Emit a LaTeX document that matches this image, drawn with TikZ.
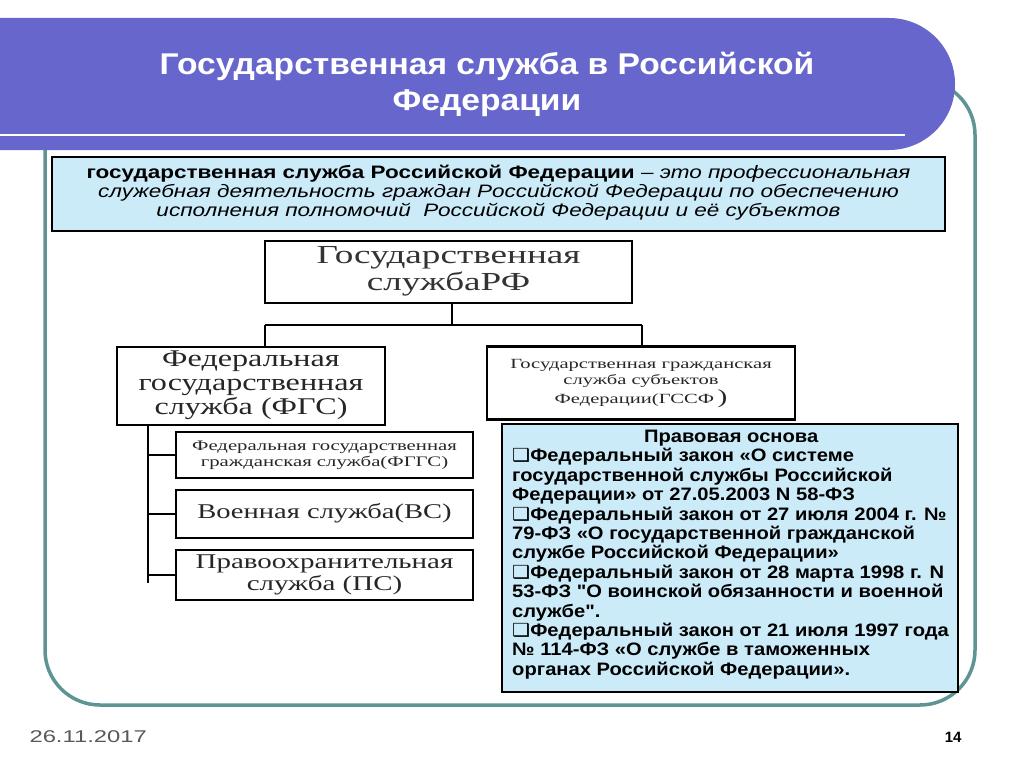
\documentclass[tikz,border=0pt]{standalone}
\usepackage{fontspec}
\setmainfont{Liberation Serif}
\newfontfamily\arial{Liberation Sans}
\newfontfamily\djvfont{DejaVu Sans}
\definecolor{ban}{HTML}{6666CC}
\definecolor{frm}{HTML}{5F9494}
\definecolor{lb}{HTML}{CCEBF9}
\newcommand\hsc[2]{\scalebox{#1}[1]{\begin{tabular}{@{}c@{}}#2\end{tabular}}}
\begin{document}
\begin{tikzpicture}[x=1pt,y=-1pt,
  org/.style={draw=black,line width=2.5pt,fill=white,align=center,inner sep=0pt},
  ln/.style={line width=2pt}]
\useasboundingbox (0,0) rectangle (1024,768);
\clip (0,0) rectangle (1024,768);
\fill[white] (0,0) rectangle (1024,768);
% frame
\draw[frm,line width=3.5pt,rounded corners=55pt] (45,80) rectangle (975,705);
% banner
\fill[ban,rounded corners=66pt] (-100,18) rectangle (955,150);
\draw[white,line width=2pt] (0,135) -- (905,135);
\node[white,font=\arial\bfseries\fontsize{30}{36}\selectfont] (title) at (487,85)
  {\hsc{1.12}{Государственная служба в Российской\\Федерации}};
% definition
\node[draw=black,line width=2.5pt,fill=lb,minimum width=893pt,minimum height=74pt,inner sep=0pt,
  font=\arial\fontsize{18}{19}\selectfont] (def) at (498.5,194)
  {\hsc{1.25}{\bfseries государственная служба Российской Федерации \mdseries\itshape – это профессиональная\\
   \itshape служебная деятельность граждан Российской Федерации по обеспечению\\
   \itshape исполнения полномочий \ Российской Федерации и её субъектов}};
% org
\node[org,minimum width=367pt,minimum height=62pt,font=\fontsize{26}{27}\selectfont,text=black!80] (gs) at (448.5,272)
  {\hsc{1.43}{Государственная\\службаРФ}};
\node[org,minimum width=268pt,minimum height=78pt,font=\fontsize{24}{24}\selectfont,text=black!85] (fgs) at (251,386)
  {\hsc{1.34}{Федеральная\\государственная\\служба (ФГС)}};
\node[org,minimum width=308pt,minimum height=73pt,font=\fontsize{14}{16}\selectfont,text=black!85] (ggss) at (641,383)
  {\hsc{1.47}{Государственная гражданская\\служба субъектов\\Федерации(ГССФ\,{\fontsize{20}{16}\selectfont)}}};
\node[org,minimum width=297pt,minimum height=46pt,font=\fontsize{14.5}{16}\selectfont,text=black!85] (fggs) at (324.5,455)
  {\hsc{1.43}{Федеральная государственная\\гражданская служба(ФГГС)}};
\node[org,minimum width=297pt,minimum height=48pt,font=\fontsize{21}{22}\selectfont,text=black!85] (vs) at (324.5,514)
  {\hsc{1.36}{Военная служба(ВС)}};
\node[org,minimum width=297pt,minimum height=50pt,font=\fontsize{21}{22}\selectfont,text=black!85] (ps) at (324.5,575)
  {\hsc{1.38}{Правоохранительная\\служба (ПС)}};
\draw[ln] (gs.south -| 452,0) -- (452,325) coordinate (j);
\draw[ln] (265,325) -- (642,325);
\draw[ln] (265,325) -- (fgs.north -| 265,0);
\draw[ln] (642,325) -- (ggss.north -| 642,0);
\draw[ln] (148,425) -- (148,583);
\draw[ln] (148,455) -- (fggs.west);
\draw[ln] (148,514) -- (vs.west);
\draw[ln] (148,575) -- (ps.west);
% legal basis
\node[draw=black,line width=2.5pt,fill=lb,minimum width=456pt,minimum height=268pt,inner sep=0pt] (law) at (730,558) {};
\node[anchor=north west,inner sep=0pt,font=\arial\bfseries\fontsize{18}{19.4}\selectfont] (lawt) at (512,430)
  {\scalebox{1.12}[1]{\parbox[t]{391pt}{\centering Правовая основа\par\raggedright
  {\djvfont\mdseries❑}Федеральный закон «О системе государственной службы Российской Федерации» от 27.05.2003 N 58-ФЗ\\
  {\djvfont\mdseries❑}Федеральный закон от 27 июля 2004 г. № 79-ФЗ «О государственной гражданской службе Российской Федерации»\\
  {\djvfont\mdseries❑}Федеральный закон от 28 марта 1998 г. N 53-ФЗ "О воинской обязанности и военной службе".\\
  {\djvfont\mdseries❑}Федеральный закон от 21 июля 1997 года № 114-ФЗ «О службе в таможенных органах Российской Федерации».}}};
% footer
\node[anchor=west,text=black!65,font=\arial\fontsize{17}{18}\selectfont] (date) at (26,737) {\scalebox{1.4}[1]{26.11.2017}};
\node[anchor=east,font=\arial\bfseries\fontsize{15}{16}\selectfont] (pg) at (965,737) {14};
\end{tikzpicture}
\end{document}
